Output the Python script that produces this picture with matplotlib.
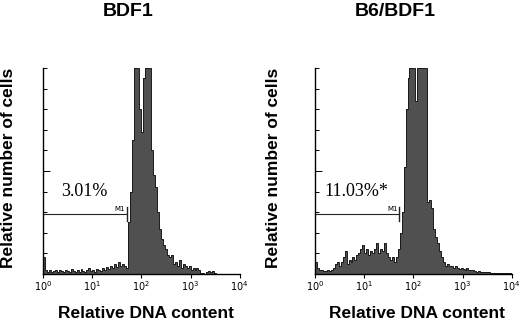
import matplotlib.pyplot as plt
import numpy as np
from matplotlib.ticker import LogLocator, NullFormatter

# DNA content histograms, 100 channels over 4 decades (counts as % of y-axis height)
titles = ['BDF1', 'B6/BDF1']
gate_labels = ['3.01%', '11.03%*']
bdf1 = [8, 2, 1, 2, 1, 1.5, 2, 1, 2, 1.5, 1, 2, 1.5, 1, 2.5, 1.5, 1, 2, 1, 2.5,
        1.5, 1, 2, 3, 1.5, 2, 1, 2.5, 2, 1.5, 3, 2, 3.5, 2.5, 4, 3, 5, 3.5, 6, 4,
        5, 4, 3, 25, 40, 65, 110, 120, 100, 80, 69, 95, 120, 120, 120, 60, 48, 42, 30, 22,
        17, 14, 12, 9, 8, 9, 5, 6, 4, 7, 3, 5, 4, 3, 4, 2, 3, 2, 3, 2,
        0.5, 0.3, 0, 1, 1.5, 1, 1.2, 0.5, 0, 0, 0, 0, 0, 0, 0, 0, 0, 0, 0, 0]
b6_bdf1 = [6, 3, 2, 2, 1.5, 1.5, 2, 1.5, 2, 3, 5, 6, 4, 6, 8, 11, 5, 7, 6, 8,
           7, 9, 10, 12, 14, 10, 12, 9, 11, 10, 12, 15, 10, 12, 11, 15, 10, 8, 7, 8,
           6, 8, 12, 20, 30, 52, 80, 95, 120, 120, 120, 84, 120, 120, 120, 120, 110, 35, 36, 32,
           22, 18, 15, 11, 8, 6, 4, 5, 4, 4, 3, 4, 3, 2.5, 3, 2.5, 2, 3, 2, 2,
           2, 1.5, 1, 1.5, 1, 1, 1, 0.8, 0.8, 0.5, 0.5, 0.5, 0.4, 0.5, 0.3, 0.5, 0.3, 0.4, 0.3, 0.3]
hists = [bdf1, b6_bdf1]
gate_upper = [51, 52]  # M1 marker right end (channel value)
label_x = [7.0, 7.0]   # where the gate percentage sits

edges = 10 ** np.linspace(0, 4, len(bdf1) + 1)

plt.rcParams['font.family'] = ['Liberation Sans', 'DejaVu Sans']
fig = plt.figure(figsize=(5.2, 3.23), dpi=100)

lefts = [0.083, 0.606]
title_x = [128, 395]
xlab_x = [146, 417]
ylab_x = [9, 274]
for k in range(2):
    ax = fig.add_axes([lefts[k], 0.152, 0.378, 0.637])
    vals = np.minimum(np.array(hists[k], dtype=float), 100)
    ax.stairs(vals, edges, fill=True, color='#505050')
    ax.stairs(vals, edges, color='#1a1a1a', lw=0.7)
    ax.set_xscale('log')
    ax.set_xlim(1, 1e4)
    ax.set_ylim(0, 100)
    for s in ['top', 'right']:
        ax.spines[s].set_visible(False)
    ax.spines['left'].set_linewidth(1.0)
    ax.spines['bottom'].set_linewidth(1.0)

    ax.set_yticks(np.linspace(0, 100, 11))
    ax.set_yticklabels([])
    ax.tick_params(axis='y', direction='in', length=3, width=0.7)
    ax.yaxis.get_major_ticks()[5].tick1line.set_markersize(5)

    ax.set_xticks([1, 10, 100, 1000, 10000])
    ax.set_xticklabels([r'$10^{0}$', r'$10^{1}$', r'$10^{2}$', r'$10^{3}$', r'$10^{4}$'],
                       fontsize=7, fontweight='bold')
    ax.xaxis.set_minor_locator(LogLocator(base=10, subs=np.arange(2, 10)))
    ax.xaxis.set_minor_formatter(NullFormatter())
    ax.tick_params(axis='x', which='major', direction='out', length=3, width=0.8, pad=1)
    ax.tick_params(axis='x', which='minor', direction='out', length=1.5, width=0.6)

    # M1 gate marker
    ax.plot([1, gate_upper[k]], [29, 29], color='#222222', lw=0.8, clip_on=False)
    ax.plot([gate_upper[k], gate_upper[k]], [25.5, 32.5], color='#222222', lw=1.0)
    ax.text(gate_upper[k] * 0.72, 30, 'M1', fontsize=5, ha='center', va='bottom',
            family='DejaVu Sans')
    ax.text(label_x[k], 40, gate_labels[k], fontsize=13, family='Liberation Serif',
            ha='center', va='center')

    fig.text(title_x[k] / 520, 1 - 12 / 323, titles[k], fontsize=14, fontweight='bold',
             ha='center', va='center')
    fig.text(xlab_x[k] / 520, 1 - 313 / 323, 'Relative DNA content', fontsize=12.5,
             fontweight='bold', ha='center', va='center')
    fig.text(ylab_x[k] / 520, 1 - 168 / 323, 'Relative number of cells', fontsize=12.5,
             fontweight='bold', ha='center', va='center', rotation=90)

plt.savefig('out.png', dpi=100)
